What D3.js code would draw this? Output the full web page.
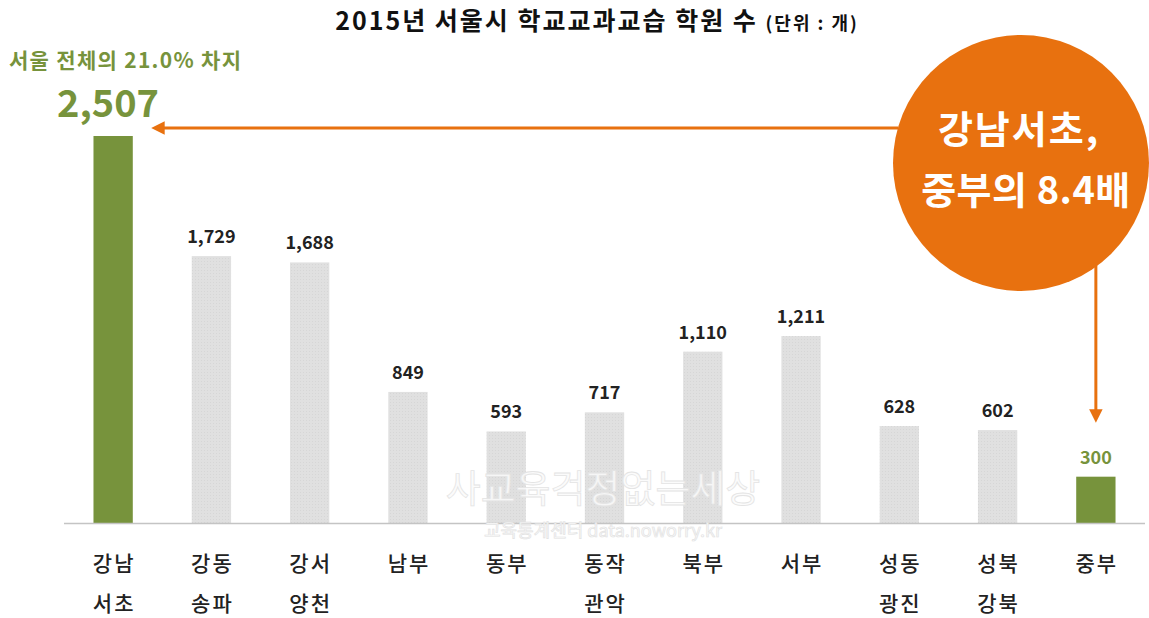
<!DOCTYPE html>
<html>
<head>
<meta charset="utf-8">
<script src="https://cdn.jsdelivr.net/npm/d3@7"></script>
<style>
  body { margin: 0; background: #fff; }
  text { font-family: "Noto Sans CJK KR", "Noto Sans", sans-serif; }
</style>
</head>
<body>
<div class="display"></div>
<script>
var regions = ["강남\n서초", "강동\n송파", "강서\n양천", "남부", "동부", "동작\n관악", "북부", "서부", "성동\n광진", "성북\n강북", "중부"];
var counts = [2507, 1729, 1688, 849, 593, 717, 1110, 1211, 628, 602, 300];
var highlighted = ["강남\n서초", "중부"];

var width = 1149, height = 618;
var baseY = 523;
var green = "#77933c", orange = "#e8710f";

var svg = d3.select(".display")
  .append("svg")
  .attr("width", width)
  .attr("height", height);

var defs = svg.append("defs");
var pat = defs.append("pattern")
  .attr("id", "dots")
  .attr("width", 3).attr("height", 3)
  .attr("patternUnits", "userSpaceOnUse");
pat.append("rect").attr("width", 3).attr("height", 3).attr("fill", "#e0e0e0");
pat.append("rect").attr("width", 1).attr("height", 1).attr("fill", "#d6d6d6");

var marker = defs.append("marker")
  .attr("id", "head")
  .attr("viewBox", "0 0 10 10")
  .attr("refX", 2).attr("refY", 5)
  .attr("markerWidth", 4.5).attr("markerHeight", 4.5)
  .attr("markerUnits", "strokeWidth")
  .attr("orient", "auto");
marker.append("path").attr("d", "M0,0 L10,5 L0,10 Z").attr("fill", orange);

var x = d3.scaleBand()
  .domain(regions)
  .range([64, 1145])
  .paddingInner(0.6)
  .paddingOuter(0.3);

var y = d3.scaleLinear()
  .domain([0, 2507])
  .range([baseY, 136]);

// title
var title = svg.append("text")
  .attr("x", 597).attr("y", 30)
  .attr("text-anchor", "middle")
  .attr("font-weight", "bold")
  .attr("fill", "#111");
title.append("tspan").attr("font-size", 25).attr("letter-spacing", 2).text("2015년 서울시 학교교과교습 학원 수 ");
title.append("tspan").attr("font-size", 18).attr("letter-spacing", 2).text("(단위 : 개)");

// bars
svg.selectAll("rect.bar")
  .data(regions)
  .enter().append("rect")
  .attr("class", "bar")
  .attr("x", function(d) { return x(d); })
  .attr("y", function(d, i) { return y(counts[i]); })
  .attr("width", x.bandwidth())
  .attr("height", function(d, i) { return baseY - y(counts[i]); })
  .attr("fill", function(d) { return highlighted.indexOf(d) >= 0 ? green : "url(#dots)"; });

// baseline
svg.append("line")
  .attr("x1", 64).attr("x2", 1145)
  .attr("y1", baseY + 0.5).attr("y2", baseY + 0.5)
  .attr("stroke", "#c4c4c4")
  .attr("stroke-width", 1.5);

// watermark, on top of the bars
svg.append("text")
  .attr("x", 603).attr("y", 502)
  .attr("text-anchor", "middle")
  .attr("font-size", 38)
  .attr("fill", "#fbfbfb")
  .attr("fill-opacity", 0.85)
  .attr("stroke", "#e4e4e4")
  .attr("stroke-width", 0.8)
  .text("사교육걱정없는세상");
svg.append("text")
  .attr("x", 603).attr("y", 537)
  .attr("text-anchor", "middle")
  .attr("font-size", 18)
  .attr("fill", "#fbfbfb")
  .attr("stroke", "#e2e2e2")
  .attr("stroke-width", 0.7)
  .text("교육통계센터 data.noworry.kr");

// value labels (except the first, drawn big)
svg.selectAll("text.val")
  .data(regions.slice(1))
  .enter().append("text")
  .attr("class", "val")
  .attr("x", function(d) { return x(d) + x.bandwidth() / 2; })
  .attr("y", function(d, i) { return y(counts[i + 1]) - 13; })
  .attr("text-anchor", "middle")
  .attr("font-size", 18)
  .attr("font-weight", "bold")
  .attr("fill", function(d) { return highlighted.indexOf(d) >= 0 ? green : "#222"; })
  .text(function(d, i) { return d3.format(",")(counts[i + 1]); });

svg.append("text")
  .attr("x", 108).attr("y", 117)
  .attr("text-anchor", "middle")
  .attr("font-size", 38)
  .attr("font-weight", "bold")
  .attr("fill", green)
  .text(d3.format(",")(counts[0]));

svg.append("text")
  .attr("x", 9).attr("y", 68)
  .attr("font-size", 21)
  .attr("font-weight", "bold")
  .attr("letter-spacing", 1.3)
  .attr("fill", green)
  .text("서울 전체의 21.0% 차지");

// category labels
svg.selectAll("text.cat")
  .data(regions)
  .enter().append("text")
  .attr("class", "cat")
  .attr("x", function(d) { return x(d) + x.bandwidth() / 2; })
  .attr("text-anchor", "middle")
  .attr("font-size", 21)
  .attr("font-weight", 500)
  .attr("letter-spacing", 2)
  .attr("fill", "#222")
  .each(function(d) {
    var t = d3.select(this);
    d.split("\n").forEach(function(line, k) {
      t.append("tspan")
        .attr("x", x(d) + x.bandwidth() / 2 + 1)
        .attr("y", 571 + k * 40)
        .text(line);
    });
  });

// arrows
var cx = 1021, cy = 163, r = 128;
svg.append("line")
  .attr("x1", cx - r + 5).attr("y1", 128)
  .attr("x2", 162).attr("y2", 128)
  .attr("stroke", orange).attr("stroke-width", 3)
  .attr("marker-end", "url(#head)");

var zx = x("중부") + x.bandwidth() / 2;
svg.append("line")
  .attr("x1", zx).attr("y1", cy + 100)
  .attr("x2", zx).attr("y2", 412)
  .attr("stroke", orange).attr("stroke-width", 3)
  .attr("marker-end", "url(#head)");

// callout circle
svg.append("circle")
  .attr("cx", cx).attr("cy", cy).attr("r", r)
  .attr("fill", orange);

svg.append("text")
  .attr("x", 1019).attr("y", 143)
  .attr("text-anchor", "middle")
  .attr("font-size", 38)
  .attr("font-weight", "bold")
  .attr("letter-spacing", 2)
  .attr("fill", "#fff")
  .text("강남서초,");
svg.append("text")
  .attr("x", 1026).attr("y", 204)
  .attr("text-anchor", "middle")
  .attr("font-size", 38)
  .attr("font-weight", "bold")
  .attr("letter-spacing", 0.5)
  .attr("fill", "#fff")
  .text("중부의 8.4배");
</script>
</body>
</html>
